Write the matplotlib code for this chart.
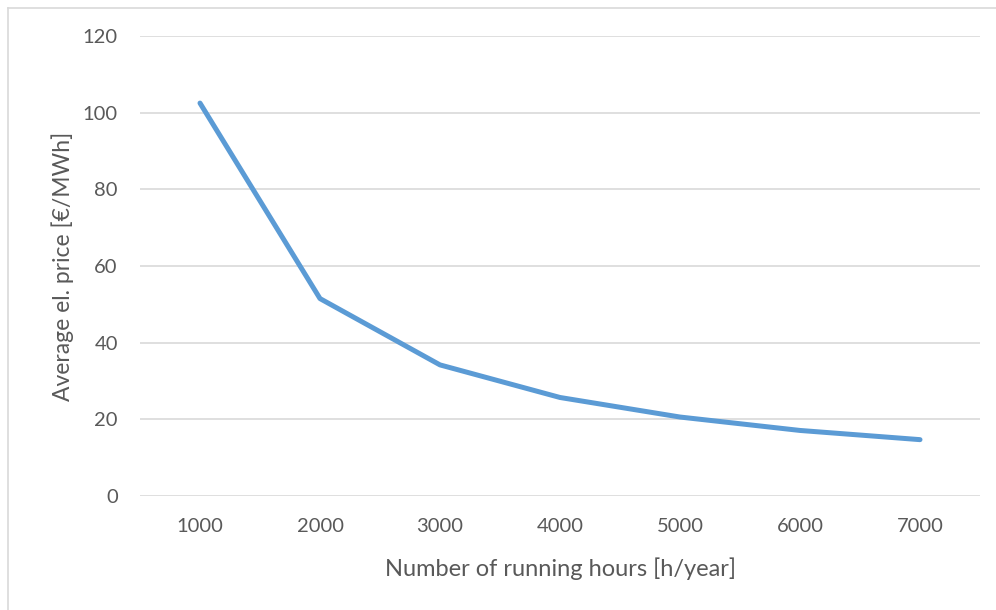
import matplotlib.pyplot as plt
from matplotlib.lines import Line2D

hours = ["1000", "2000", "3000", "4000", "5000", "6000", "7000"]
price = [102.5, 51.5, 34.2, 25.7, 20.6, 17.1, 14.7]
yticks = [0, 20, 40, 60, 80, 100, 120]

W, H = 996, 610
plt.rcParams["font.family"] = ["Lato", "DejaVu Sans"]
fig = plt.figure(figsize=(W / 100, H / 100), dpi=100)
ax = fig.add_axes([140 / W, 1 - 496 / H, (980 - 140) / W, (496 - 36) / H])

x = list(range(len(hours)))
ax.plot(x, price, color="#5b9bd5", lw=3.6, solid_capstyle="round", solid_joinstyle="round", zorder=3)

ax.set_xlim(-0.5, len(hours) - 0.5)
ax.set_ylim(0, 120)
ax.set_yticks(yticks)
ax.set_xticks(x)
ax.set_xticklabels(hours)
ax.grid(axis="y", color="#d9d9d9", lw=1.2)
ax.set_axisbelow(True)
for s in ax.spines.values():
    s.set_visible(False)
ax.tick_params(length=0, labelsize=14.5, colors="#595959")
ax.tick_params(axis="y", pad=16)
ax.tick_params(axis="x", pad=16)

ax.set_xlabel("Number of running hours [h/year]", fontsize=17, color="#595959", labelpad=16)
ax.set_ylabel("Average el. price [€/MWh]", fontsize=16.5, color="#595959", labelpad=6)

# chart area border (cropped on right/bottom)
fig.add_artist(Line2D([7.5 / W, 7.5 / W], [0, 1 - 7.5 / H], color="#d9d9d9", lw=1.2, transform=fig.transFigure))
fig.add_artist(Line2D([7.5 / W, 1], [1 - 7.5 / H, 1 - 7.5 / H], color="#d9d9d9", lw=1.2, transform=fig.transFigure))

fig.savefig("out.png", dpi=100)
